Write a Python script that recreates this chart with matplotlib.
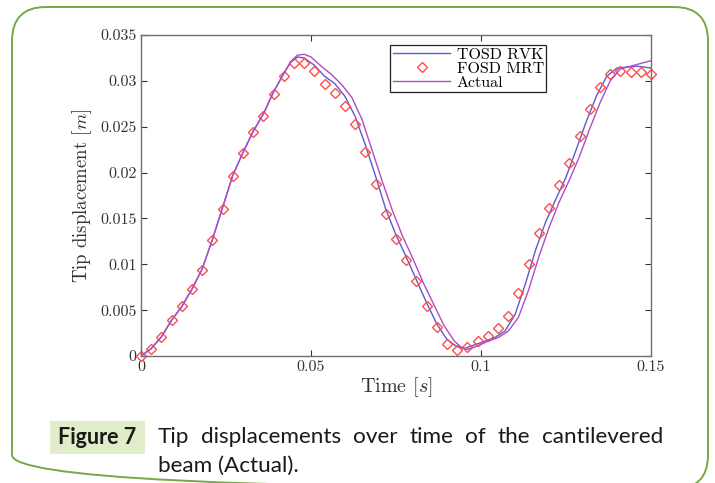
import matplotlib
matplotlib.use("Agg")
import matplotlib.pyplot as plt
from matplotlib.patches import FancyBboxPatch, Rectangle

plt.rcParams['font.family'] = 'serif'
plt.rcParams['font.serif'] = ['cmr10']
plt.rcParams['mathtext.fontset'] = 'cm'
plt.rcParams['axes.formatter.use_mathtext'] = True

# FOSD MRT (markers)
t_mrt = [0.000, 0.003, 0.006, 0.009, 0.012, 0.015, 0.018, 0.021, 0.024, 0.027,
         0.030, 0.033, 0.036, 0.039, 0.042, 0.045, 0.048, 0.051, 0.054, 0.057,
         0.060, 0.063, 0.066, 0.069, 0.072, 0.075, 0.078, 0.081, 0.084, 0.087,
         0.090, 0.093, 0.096, 0.099, 0.102, 0.105, 0.108, 0.111, 0.114, 0.117,
         0.120, 0.123, 0.126, 0.129, 0.132, 0.135, 0.138, 0.141, 0.144, 0.147,
         0.150]
d_mrt = [0.0000, 0.0008, 0.0021, 0.0039, 0.0054, 0.0073, 0.0094, 0.0126, 0.0160, 0.0196,
         0.0221, 0.0244, 0.0262, 0.0286, 0.0305, 0.0319, 0.0319, 0.0311, 0.0297, 0.0287,
         0.0273, 0.0253, 0.0222, 0.0188, 0.0155, 0.0128, 0.0105, 0.0082, 0.0055, 0.0032,
         0.0013, 0.00065, 0.00095, 0.0016, 0.0022, 0.0030, 0.0044, 0.0069, 0.0100, 0.0134,
         0.0161, 0.0186, 0.0210, 0.0240, 0.0269, 0.0293, 0.0307, 0.0311, 0.0310, 0.0310,
         0.0307]

# TOSD RVK
t_rvk = [0.000, 0.003, 0.006, 0.009, 0.012, 0.015, 0.018, 0.021, 0.024, 0.027,
         0.030, 0.033, 0.036, 0.039, 0.042, 0.044, 0.046, 0.048, 0.051, 0.054,
         0.057, 0.060, 0.063, 0.066, 0.069, 0.072, 0.075, 0.078, 0.081, 0.084,
         0.087, 0.090, 0.093, 0.095, 0.098, 0.101, 0.104, 0.107, 0.110, 0.113,
         0.116, 0.119, 0.122, 0.125, 0.128, 0.131, 0.134, 0.137, 0.140, 0.143,
         0.146, 0.150]
d_rvk = [0.0000, 0.0008, 0.0021, 0.0039, 0.0054, 0.0073, 0.0095, 0.0127, 0.0162, 0.0197,
         0.0222, 0.0245, 0.0264, 0.0288, 0.0308, 0.0320, 0.0326, 0.0325, 0.0317, 0.0305,
         0.0297, 0.0283, 0.0261, 0.0230, 0.0196, 0.0160, 0.0132, 0.0108, 0.0083, 0.0058,
         0.0035, 0.0018, 0.0010, 0.0008, 0.0012, 0.0016, 0.0020, 0.0027, 0.0045, 0.0078,
         0.0115, 0.0146, 0.0171, 0.0195, 0.0225, 0.0256, 0.0284, 0.0305, 0.0314, 0.0315,
         0.0316, 0.0314]

# Actual
t_act = [0.000, 0.003, 0.006, 0.009, 0.012, 0.015, 0.018, 0.021, 0.024, 0.027,
         0.030, 0.033, 0.036, 0.039, 0.042, 0.044, 0.046, 0.048, 0.050, 0.053,
         0.056, 0.059, 0.062, 0.065, 0.068, 0.071, 0.074, 0.077, 0.080, 0.083,
         0.086, 0.089, 0.092, 0.094, 0.096, 0.099, 0.102, 0.105, 0.108, 0.111,
         0.114, 0.117, 0.120, 0.123, 0.126, 0.129, 0.132, 0.135, 0.138, 0.141,
         0.144, 0.147, 0.150]
d_act = [0.0000, 0.0008, 0.0021, 0.0039, 0.0054, 0.0073, 0.0095, 0.0127, 0.0162, 0.0197,
         0.0222, 0.0245, 0.0264, 0.0288, 0.0308, 0.0321, 0.0328, 0.0329, 0.0326, 0.0316,
         0.0307, 0.0296, 0.0282, 0.0258, 0.0224, 0.0190, 0.0158, 0.0130, 0.0106, 0.0080,
         0.0057, 0.0034, 0.0017, 0.0010, 0.0007, 0.0011, 0.0016, 0.0020, 0.0027, 0.0042,
         0.0072, 0.0108, 0.0140, 0.0168, 0.0192, 0.0218, 0.0248, 0.0276, 0.0300, 0.0313,
         0.0316, 0.0319, 0.0322]

xticks = [0, 0.05, 0.1, 0.15]
xtick_labels = ['0', '0.05', '0.1', '0.15']
yticks = [0, 0.005, 0.01, 0.015, 0.02, 0.025, 0.03, 0.035]
ytick_labels = ['0', '0.005', '0.01', '0.015', '0.02', '0.025', '0.03', '0.035']

caption_words = ['Tip', 'displacements', 'over', 'time', 'of', 'the', 'cantilevered']
caption_line2 = 'beam (Actual).'

W, H = 715, 483
fig = plt.figure(figsize=(W / 100, H / 100), dpi=100)

# background frame and caption, in pixel coordinates
bg = fig.add_axes([0, 0, 1, 1], zorder=-1)
bg.set_xlim(0, W)
bg.set_ylim(H, 0)
bg.axis('off')
bg.add_patch(FancyBboxPatch((12, 7), 696, 482,
                            boxstyle='round,pad=0,rounding_size=34',
                            fc='none', ec='#76a844', lw=1.4, clip_on=False))
bg.add_patch(Rectangle((50, 421), 95, 33, fc='#e1ecca', ec='none'))
bg.text(97.5, 438, 'Figure 7', family='Lato', weight='bold', fontsize=15.5,
        ha='center', va='center', color='#1a1a1a')

ax = fig.add_axes([141 / W, 1 - 356 / H, 510 / W, 321 / H])
ax.plot(t_rvk, d_rvk, color='#5a5ad2', lw=1.0, label='TOSD RVK')
ax.plot(t_mrt, d_mrt, ls='none', marker='D', ms=5.5, mfc='none', mec='#ff4d4d',
        mew=1.0, label='FOSD MRT', clip_on=False)
ax.plot(t_act, d_act, color='#b04cc4', lw=1.0, label='Actual')

ax.set_xlim(0, 0.15)
ax.set_ylim(0, 0.035)
ax.set_xticks(xticks)
ax.set_xticklabels(xtick_labels)
ax.set_yticks(yticks)
ax.set_yticklabels(ytick_labels)
ax.tick_params(direction='in', top=True, right=True, length=4, width=0.8,
               labelsize=11.5, colors='#333333', pad=3)
for s in ax.spines.values():
    s.set_color('#707070')
    s.set_linewidth(1.0)
ax.set_xlabel('Time $[s]$', fontsize=14.5, color='#333333', labelpad=1)
ax.set_ylabel('Tip displacement $[m]$', fontsize=13.5, color='#333333', labelpad=5)

leg = ax.legend(loc='upper left', bbox_to_anchor=(0.489, 0.969), fontsize=11.5,
                frameon=True, fancybox=False, edgecolor='#222222', framealpha=1,
                handlelength=3.6, handletextpad=0.4, borderpad=0.15,
                labelspacing=0.0, borderaxespad=0)
leg.get_frame().set_linewidth(0.9)

# justified first caption line
fig.canvas.draw()
r = fig.canvas.get_renderer()
x_left, x_right, y1 = 158, 663, 443
texts = []
widths = []
for w in caption_words:
    t = bg.text(0, y1, w, family='Lato', fontsize=16.2, va='baseline', color='#1a1a1a')
    widths.append(t.get_window_extent(r).width)
    texts.append(t)
gap = (x_right - x_left - sum(widths)) / (len(caption_words) - 1)
x = x_left
for t, wd in zip(texts, widths):
    t.set_x(x)
    x += wd + gap
bg.text(x_left, 472, caption_line2, family='Lato', fontsize=16.2, va='baseline',
        color='#1a1a1a')

fig.savefig('out.png', dpi=100)
